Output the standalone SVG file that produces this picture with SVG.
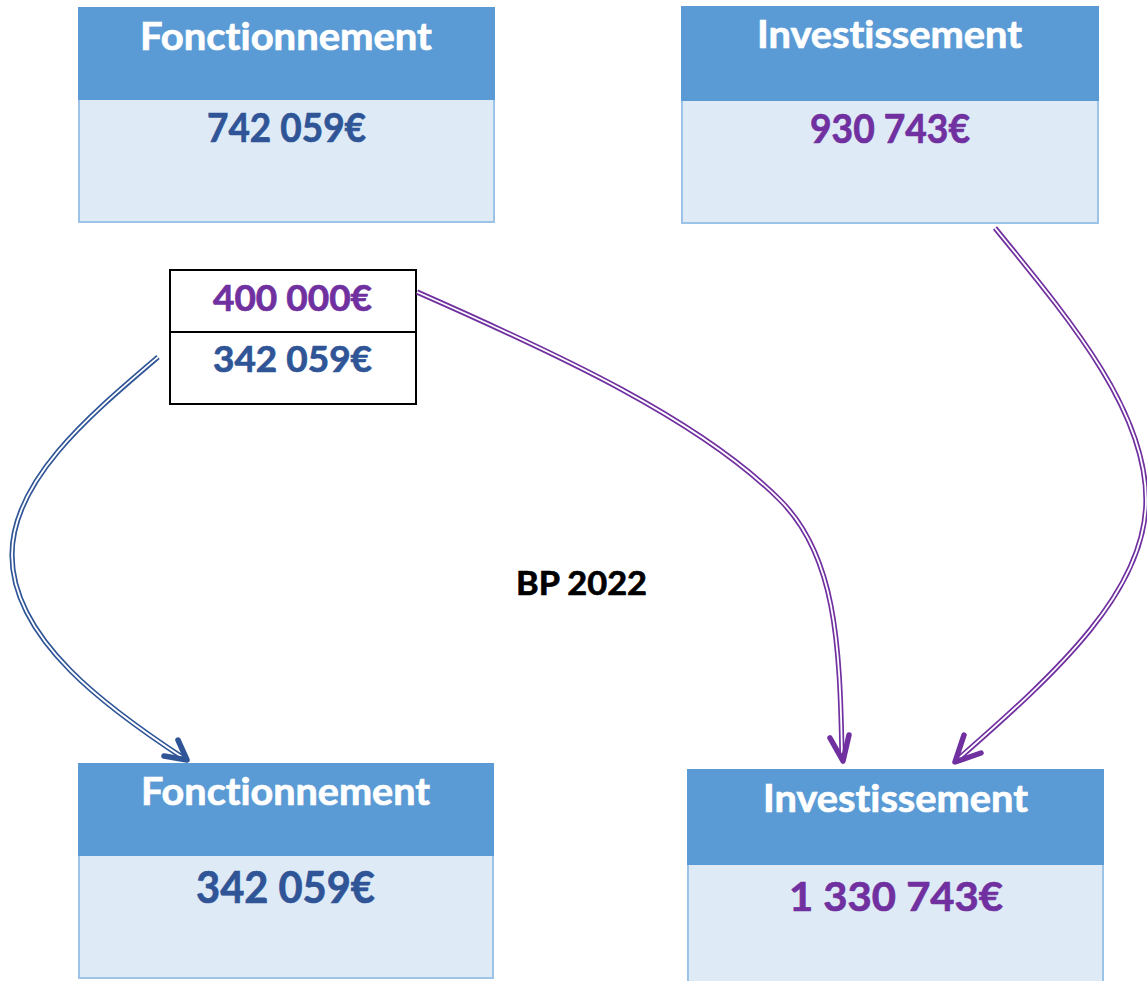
<svg xmlns="http://www.w3.org/2000/svg" width="1147" height="981" viewBox="0 0 1147 981">
<style>
.body{fill:#deebf7;stroke:#9dc3e6;stroke-width:2}
.head{fill:#5b9bd5}
.t{font-family:Lato,"Liberation Sans",sans-serif;font-weight:bold;text-anchor:middle;font-variant-ligatures:none;stroke-width:0.7}
.title{fill:#ffffff;stroke:#ffffff;font-size:38px}
.blue{fill:#2f5597;stroke:#2f5597}
.purple{fill:#7030a0;stroke:#7030a0}
.black{fill:#000000;stroke:#000000}
.outerB{fill:none;stroke:#2f5597;stroke-width:5.2}
.outerP{fill:none;stroke:#7030a0;stroke-width:5.2}
.inner{fill:none;stroke:#ffffff;stroke-width:1.8}
.headB{fill:none;stroke:#2f5597;stroke-width:5.5;stroke-linecap:round;stroke-linejoin:round}
.headP{fill:none;stroke:#7030a0;stroke-width:5.5;stroke-linecap:round;stroke-linejoin:round}
</style>
<rect width="1147" height="981" fill="#ffffff"/>

<g id="fonct-top">
<rect class="body" x="79" y="8" width="415" height="214"/>
<rect class="head" x="78" y="7" width="417" height="93"/>
<text class="t title" x="286" y="50" textLength="292" lengthAdjust="spacingAndGlyphs">Fonctionnement</text>
<text class="t blue" x="286.5" y="142" font-size="40" textLength="159" lengthAdjust="spacingAndGlyphs">742 059€</text>
</g>

<g id="invest-top">
<rect class="body" x="682" y="7" width="416" height="216"/>
<rect class="head" x="681" y="6" width="418" height="95"/>
<text class="t title" x="889.5" y="48" textLength="265" lengthAdjust="spacingAndGlyphs">Investissement</text>
<text class="t purple" x="890" y="143" font-size="40" textLength="160" lengthAdjust="spacingAndGlyphs">930 743€</text>
</g>

<g id="split">
<rect x="170" y="270" width="246" height="134" fill="#ffffff" stroke="#000000" stroke-width="2"/>
<line x1="170" y1="332" x2="416" y2="332" stroke="#000000" stroke-width="2"/>
<text class="t purple" x="292.5" y="311" font-size="36" textLength="159" lengthAdjust="spacingAndGlyphs">400 000€</text>
<text class="t blue" x="292.5" y="372" font-size="36" textLength="159" lengthAdjust="spacingAndGlyphs">342 059€</text>
</g>

<g id="label">
<text class="t black" x="581.5" y="595" font-size="33" textLength="131" lengthAdjust="spacingAndGlyphs">BP 2022</text>
</g>

<g id="fonct-bottom">
<rect class="body" x="79" y="764" width="414" height="214"/>
<rect class="head" x="78" y="763" width="416" height="93"/>
<text class="t title" x="285.5" y="805" textLength="289" lengthAdjust="spacingAndGlyphs">Fonctionnement</text>
<text class="t blue" x="285.5" y="903" font-size="43" textLength="179" lengthAdjust="spacingAndGlyphs">342 059€</text>
</g>

<g id="invest-bottom">
<rect class="body" x="688" y="770" width="415" height="214"/>
<rect class="head" x="687" y="769" width="417" height="96"/>
<text class="t title" x="895.5" y="812" textLength="265" lengthAdjust="spacingAndGlyphs">Investissement</text>
<text class="t purple" x="896" y="911" font-size="41" textLength="214" lengthAdjust="spacingAndGlyphs">1 330 743€</text>
</g>

<g id="connectors">
<path class="outerB" d="M158,357 C90,415 12,480 12,555 C12,640 110,710 185,759"/>
<path class="inner" d="M158,357 C90,415 12,480 12,555 C12,640 110,710 185,759"/>
<polyline class="headB" points="178,740 187,760 164,756"/>

<path class="outerP" d="M417,292 C560,355 700,420 780,500 C835,555 840,640 842,758"/>
<path class="inner" d="M417,292 C560,355 700,420 780,500 C835,555 840,640 842,758"/>
<polyline class="headP" points="830,738 843,761 849,735"/>

<path class="outerP" d="M995,228 C1070,320 1146,410 1146,500 C1146,590 1060,670 957,760"/>
<path class="inner" d="M995,228 C1070,320 1146,410 1146,500 C1146,590 1060,670 957,760"/>
<polyline class="headP" points="964,735 955,762 981,753"/>
</g>
</svg>
